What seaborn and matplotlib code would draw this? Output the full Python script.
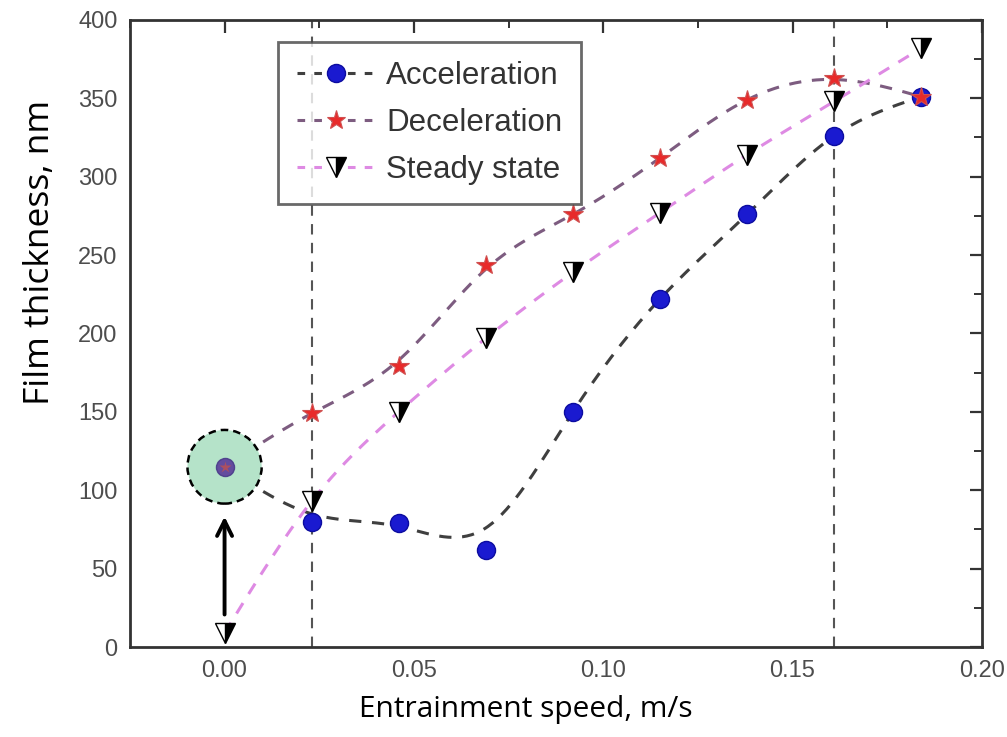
import numpy as np
import pandas as pd
import seaborn as sns
import matplotlib.pyplot as plt
from matplotlib.lines import Line2D
from matplotlib.patches import Ellipse

# speeds (m/s) and film thickness (nm)
speed = [0.0, 0.023, 0.046, 0.069, 0.092, 0.115, 0.138, 0.161, 0.184]
accel = [115, 80, 79, 62, 150, 222, 276, 326, 351]
decel = [115, 149, 179, 244, 276, 312, 349, 363, 351]
steady = [9, 93, 150, 197, 239, 277, 314, 348, 382]
# path of the fitted dashed curves (acceleration fit does not hit every point)
accel_fit = [115, 85, 77, 76, 150, 222, 276, 326, 351]
decel_fit = [115, 149, 183, 241, 276, 312, 349, 362, 351]
steady_fit = [9, 93, 150, 197, 239, 277, 314, 348, 382]
guide_x = [0.023, 0.161]
start_pt = (0.0, 115)
xticks = [0.00, 0.05, 0.10, 0.15, 0.20]
yticks = [0, 50, 100, 150, 200, 250, 300, 350, 400]


def natural_spline(x, y, n=300):
    # plain natural cubic spline, numpy only
    x = np.asarray(x, float); y = np.asarray(y, float)
    k = len(x); h = np.diff(x)
    A = np.zeros((k, k)); b = np.zeros(k)
    A[0, 0] = A[-1, -1] = 1
    for i in range(1, k - 1):
        A[i, i - 1] = h[i - 1]; A[i, i] = 2 * (h[i - 1] + h[i]); A[i, i + 1] = h[i]
        b[i] = 6 * ((y[i + 1] - y[i]) / h[i] - (y[i] - y[i - 1]) / h[i - 1])
    M = np.linalg.solve(A, b)
    xs = np.linspace(x[0], x[-1], n)
    j = np.clip(np.searchsorted(x, xs) - 1, 0, k - 2)
    t0 = x[j + 1] - xs; t1 = xs - x[j]; hj = h[j]
    ys = (M[j] * t0**3 + M[j + 1] * t1**3) / (6 * hj) \
        + (y[j] / hj - M[j] * hj / 6) * t0 + (y[j + 1] / hj - M[j + 1] * hj / 6) * t1
    return xs, ys


sns.set_theme(style='white')
plt.rcParams['font.family'] = ['Liberation Sans', 'DejaVu Sans']

fig = plt.figure(figsize=(10.07, 7.37), dpi=100)
ax = fig.add_axes([0.129, 0.122, 0.846, 0.851])

line_col = {'acc': '#3f3f3f', 'dec': '#7d5c80', 'std': '#de8ae3'}

for key, fit in [('acc', accel_fit), ('dec', decel_fit), ('std', steady_fit)]:
    xs, ys = natural_spline(speed, fit)
    df = pd.DataFrame({'x': xs, 'y': ys})
    sns.lineplot(data=df, x='x', y='y', ax=ax, color=line_col[key], lw=2.2,
                 linestyle=(0, (4, 3.5)), sort=False, zorder=2)

for gx in guide_x:
    ax.axvline(gx, color='#555555', lw=1.5, linestyle=(0, (5, 4)), zorder=1)

# highlighted starting point
ax.add_patch(Ellipse(start_pt, 0.0196, 47, facecolor='#b5e3c9', edgecolor='black',
                     lw=1.8, linestyle=(0, (3, 2)), zorder=3))
ax.annotate('', xy=(start_pt[0], 85), xytext=(start_pt[0], 19),
            arrowprops=dict(arrowstyle='->,head_width=0.45,head_length=0.9',
                            lw=2.8, color='black'), zorder=6)

acc_style = dict(marker='o', ms=13, mfc='#1a1ad0', mec='#0c0ca0', mew=1, ls='none')
dec_style = dict(marker='*', ms=15, mfc='#e82a2a', mec='#d05050', mew=0.8, ls='none')
std_style = dict(marker='v', ms=15, mfc='black', mfcalt='white', fillstyle='right',
                 mec='black', mew=1, ls='none')

ax.plot(speed, steady, zorder=4, **std_style)
ax.plot(speed[1:], accel[1:], zorder=4, **acc_style)
ax.plot(speed[1:], decel[1:], zorder=5, **dec_style)
ax.plot([speed[0]], [accel[0]], marker='o', ms=13, mfc='#5b3b9a', mec='#4a3a8a',
        ls='none', alpha=0.9, zorder=5)
ax.plot([speed[0]], [decel[0]], marker='*', ms=9, mfc='#c05050', mec='none',
        ls='none', alpha=0.8, zorder=5)

ax.set_xlim(-0.025, 0.2)
ax.set_ylim(0, 400)
ax.set_xticks(xticks)
ax.set_xticklabels([f'{v:.2f}' for v in xticks])
ax.set_yticks(yticks)
ax.set_xticks(np.arange(-0.025, 0.2001, 0.025), minor=True)
ax.set_yticks(np.arange(0, 401, 25), minor=True)
ax.tick_params(which='both', direction='in', top=True, right=True, colors='#333333',
               labelcolor='#4d4d4d', labelsize=17)
ax.tick_params(which='major', length=9, width=1.6, pad=9)
ax.tick_params(which='minor', length=5.5, width=1.4)
for s in ax.spines.values():
    s.set_color('#333333')
    s.set_linewidth(2)

lab_fam = ['Open Sans', 'DejaVu Sans']
ax.set_xlabel('Entrainment speed, m/s', family=lab_fam, fontsize=21.5, color='black')
ax.xaxis.set_label_coords(0.465, -0.1)
ax.set_ylabel('Film thickness, nm', family=lab_fam, fontsize=25.5, color='black')
ax.yaxis.set_label_coords(-0.106, 0.63)
ax.xaxis.label.set_va('center')
ax.yaxis.label.set_va('center')

handles = [
    Line2D([], [], color=line_col['acc'], lw=2.2, ls=(0, (2.5, 3)), **{k: v for k, v in acc_style.items() if k != 'ls'}),
    Line2D([], [], color=line_col['dec'], lw=2.2, ls=(0, (2.5, 3)), **{k: v for k, v in dec_style.items() if k != 'ls'}),
    Line2D([], [], color=line_col['std'], lw=2.2, ls=(0, (2.5, 3)), **{k: v for k, v in std_style.items() if k != 'ls'}),
]
handles[0].set_markersize(13)
handles[1].set_markersize(14)
handles[2].set_markersize(14)
leg = ax.legend(handles, ['Acceleration', 'Deceleration', 'Steady state'],
                loc='upper left', bbox_to_anchor=(0.174, 0.965), borderaxespad=0,
                fontsize=22.5, frameon=True, fancybox=False, handlelength=2.5,
                labelspacing=0.55, borderpad=0.6, handletextpad=0.35)
leg.get_frame().set_edgecolor('#444444')
leg.get_frame().set_linewidth(2)
for t in leg.get_texts():
    t.set_color('#333333')

fig.savefig('out.png', dpi=100)
